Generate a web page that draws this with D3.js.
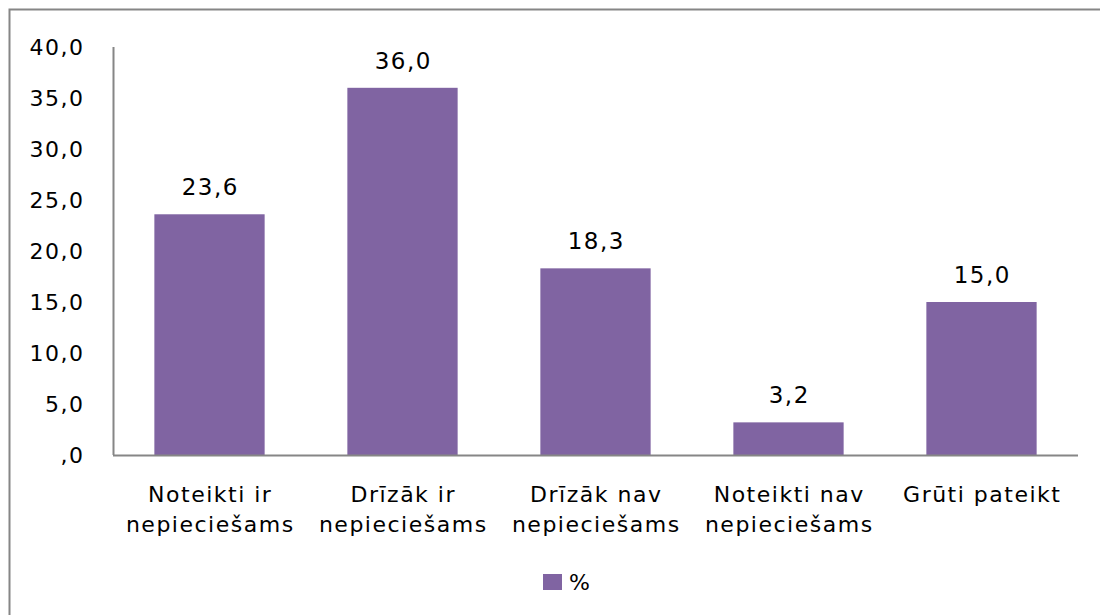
<!DOCTYPE html>
<html>
<head>
<meta charset="utf-8">
<script src="https://cdn.jsdelivr.net/npm/d3@7"></script>
<style>
  body { margin: 0; background: #fff; }
  text { font-family: "DejaVu Sans", sans-serif; fill: #000; letter-spacing: 1.5px; }
</style>
</head>
<body>
<div id="chart"></div>
<script>
// data
var categories = [
  ["Noteikti ir", "nepiecie\u0161ams"],
  ["Dr\u012Bz\u0101k ir", "nepiecie\u0161ams"],
  ["Dr\u012Bz\u0101k nav", "nepiecie\u0161ams"],
  ["Noteikti nav", "nepiecie\u0161ams"],
  ["Gr\u016Bti pateikt"]
]
var values = [23.6, 36.0, 18.3, 3.2, 15.0]
var yTicks = [0, 5, 10, 15, 20, 25, 30, 35, 40]
var seriesName = "%"

var width = 1100
var height = 615
var color = "#8064A2"
var axisColor = "#868686"

var svg = d3.select("#chart")
  .append("svg")
  .attr("width", width)
  .attr("height", height)

// outer frame (only top and left visible)
svg.append("path")
  .attr("d", "M9.5,615 V9.5 H1100")
  .attr("fill", "none")
  .attr("stroke", axisColor)
  .attr("stroke-width", 2)

var plotLeft = 113, plotRight = 1078, plotTop = 47, plotBottom = 455

var x = d3.scaleBand()
  .domain(d3.range(values.length))
  .range([plotLeft, plotRight])
  .paddingInner(0.4286)
  .paddingOuter(0.2143)

var y = d3.scaleLinear()
  .domain([0, 40])
  .range([plotBottom, plotTop])

var fmt = function (v) {
  var s = v.toFixed(1).replace(".", ",")
  return s.indexOf("0,") === 0 ? s.slice(1) : s
}

// y tick labels
svg.selectAll(".ytick")
  .data(yTicks)
  .enter()
  .append("text")
  .attr("class", "ytick")
  .attr("x", 84.5)
  .attr("y", function (d) { return y(d) })
  .attr("dy", "0.36em")
  .attr("text-anchor", "end")
  .style("font-size", "22px")
  .text(fmt)

// bars
svg.selectAll(".bar")
  .data(values)
  .enter()
  .append("rect")
  .attr("class", "bar")
  .attr("x", function (d, i) { return x(i) })
  .attr("y", function (d) { return y(d) })
  .attr("width", x.bandwidth())
  .attr("height", function (d) { return y(0) - y(d) })
  .attr("fill", color)

// axes lines
svg.append("line")
  .attr("x1", plotLeft + 0.5).attr("x2", plotLeft + 0.5)
  .attr("y1", plotTop).attr("y2", plotBottom)
  .attr("stroke", axisColor).attr("stroke-width", 2)
svg.append("line")
  .attr("x1", plotLeft).attr("x2", plotRight)
  .attr("y1", plotBottom + 0.5).attr("y2", plotBottom + 0.5)
  .attr("stroke", axisColor).attr("stroke-width", 2)

// value labels
svg.selectAll(".val")
  .data(values)
  .enter()
  .append("text")
  .attr("class", "val")
  .attr("x", function (d, i) { return x(i) + x.bandwidth() / 2 + 0.75 })
  .attr("y", function (d) { return y(d) - 19 })
  .attr("text-anchor", "middle")
  .style("font-size", "23px")
  .text(fmt)

// category labels
var cat = svg.selectAll(".cat")
  .data(categories)
  .enter()
  .append("text")
  .attr("class", "cat")
  .attr("text-anchor", "middle")
  .style("font-size", "22px")
  .attr("transform", function (d, i) {
    return "translate(" + (x(i) + x.bandwidth() / 2 + 0.75) + ",502)"
  })
cat.selectAll("tspan")
  .data(function (d) { return d })
  .enter()
  .append("tspan")
  .attr("x", 0)
  .attr("y", function (d, i) { return i * 30 })
  .text(function (d) { return d })

// legend
svg.append("rect")
  .attr("x", 543).attr("y", 574)
  .attr("width", 19).attr("height", 16)
  .attr("fill", color)
svg.append("text")
  .attr("x", 569).attr("y", 590)
  .style("font-size", "22px")
  .text(seriesName)
</script>
</body>
</html>
